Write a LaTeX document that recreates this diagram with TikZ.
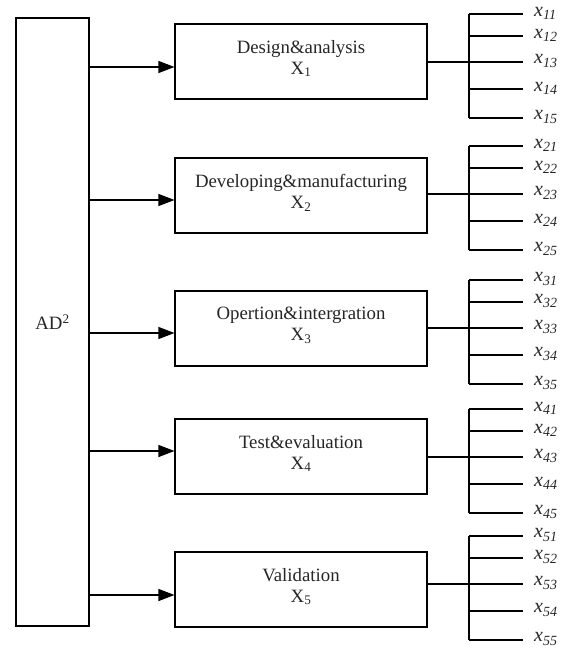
\documentclass[tikz,border=0pt]{standalone}
\usepackage{fontspec}
\setmainfont{Liberation Serif}
\usetikzlibrary{arrows.meta}
\begin{document}
\begin{tikzpicture}[x=1pt,y=-1pt,
  box/.style={draw, line width=1.1pt, inner sep=0pt, align=center,
    font=\fontsize{18.8}{21}\selectfont, text=black!85},
  link/.style={line width=1.1pt},
  arr/.style={link, -{Triangle[length=16pt,width=12pt]}},
  lbl/.style={anchor=west, inner sep=0pt, font=\fontsize{20}{22}\selectfont, text=black!85}]
\useasboundingbox (0,0) rectangle (568,658);

% main block on the left
\node[box, minimum width=73pt, minimum height=608pt] (AD) at (52.5,322) {AD\textsuperscript{2}};

% one stage block per row: index / top / arrow y / comb y / title
\foreach \i/\t/\a/\c/\txt in {
    1/24/67/62/Design\&analysis,
    2/158/200/194/Developing\&manufacturing,
    3/291/333/328/Opertion\&intergration,
    4/419/451/457/Test\&evaluation,
    5/552/595/584/Validation} {
  \node[box, minimum width=252pt, minimum height=75pt] (b\i) at (301,\t+37.5) {};
  \node[align=center, inner sep=0pt, font=\fontsize{18.8}{21}\selectfont, text=black!85]
    (n\i) at ([yshift=3pt]b\i.center) {\txt\\X\textsubscript{\i}};
  \coordinate (ay\i) at (0,\a);
  \draw[arr] (AD.east |- ay\i) -- (b\i.west |- ay\i);
  % comb of sub-indicators
  \coordinate (cj\i) at (469,\c);
  \draw[link] (b\i.east |- cj\i) -- (cj\i);
  \foreach \k/\d in {1/-48,2/-26,3/0,4/27,5/56} {
    \coordinate (t\i\k) at (469,\c+\d);
    \coordinate (e\i\k) at (523,\c+\d);
    \draw[link] (t\i\k) -- (e\i\k);
    \node[lbl] (x\i\k) at ([xshift=11pt,yshift=1pt]e\i\k) {\textit{x}\textsubscript{\textit{\i\k}}};
  }
  \draw[link] (t\i1) -- (t\i5);
}
\end{tikzpicture}
\end{document}
